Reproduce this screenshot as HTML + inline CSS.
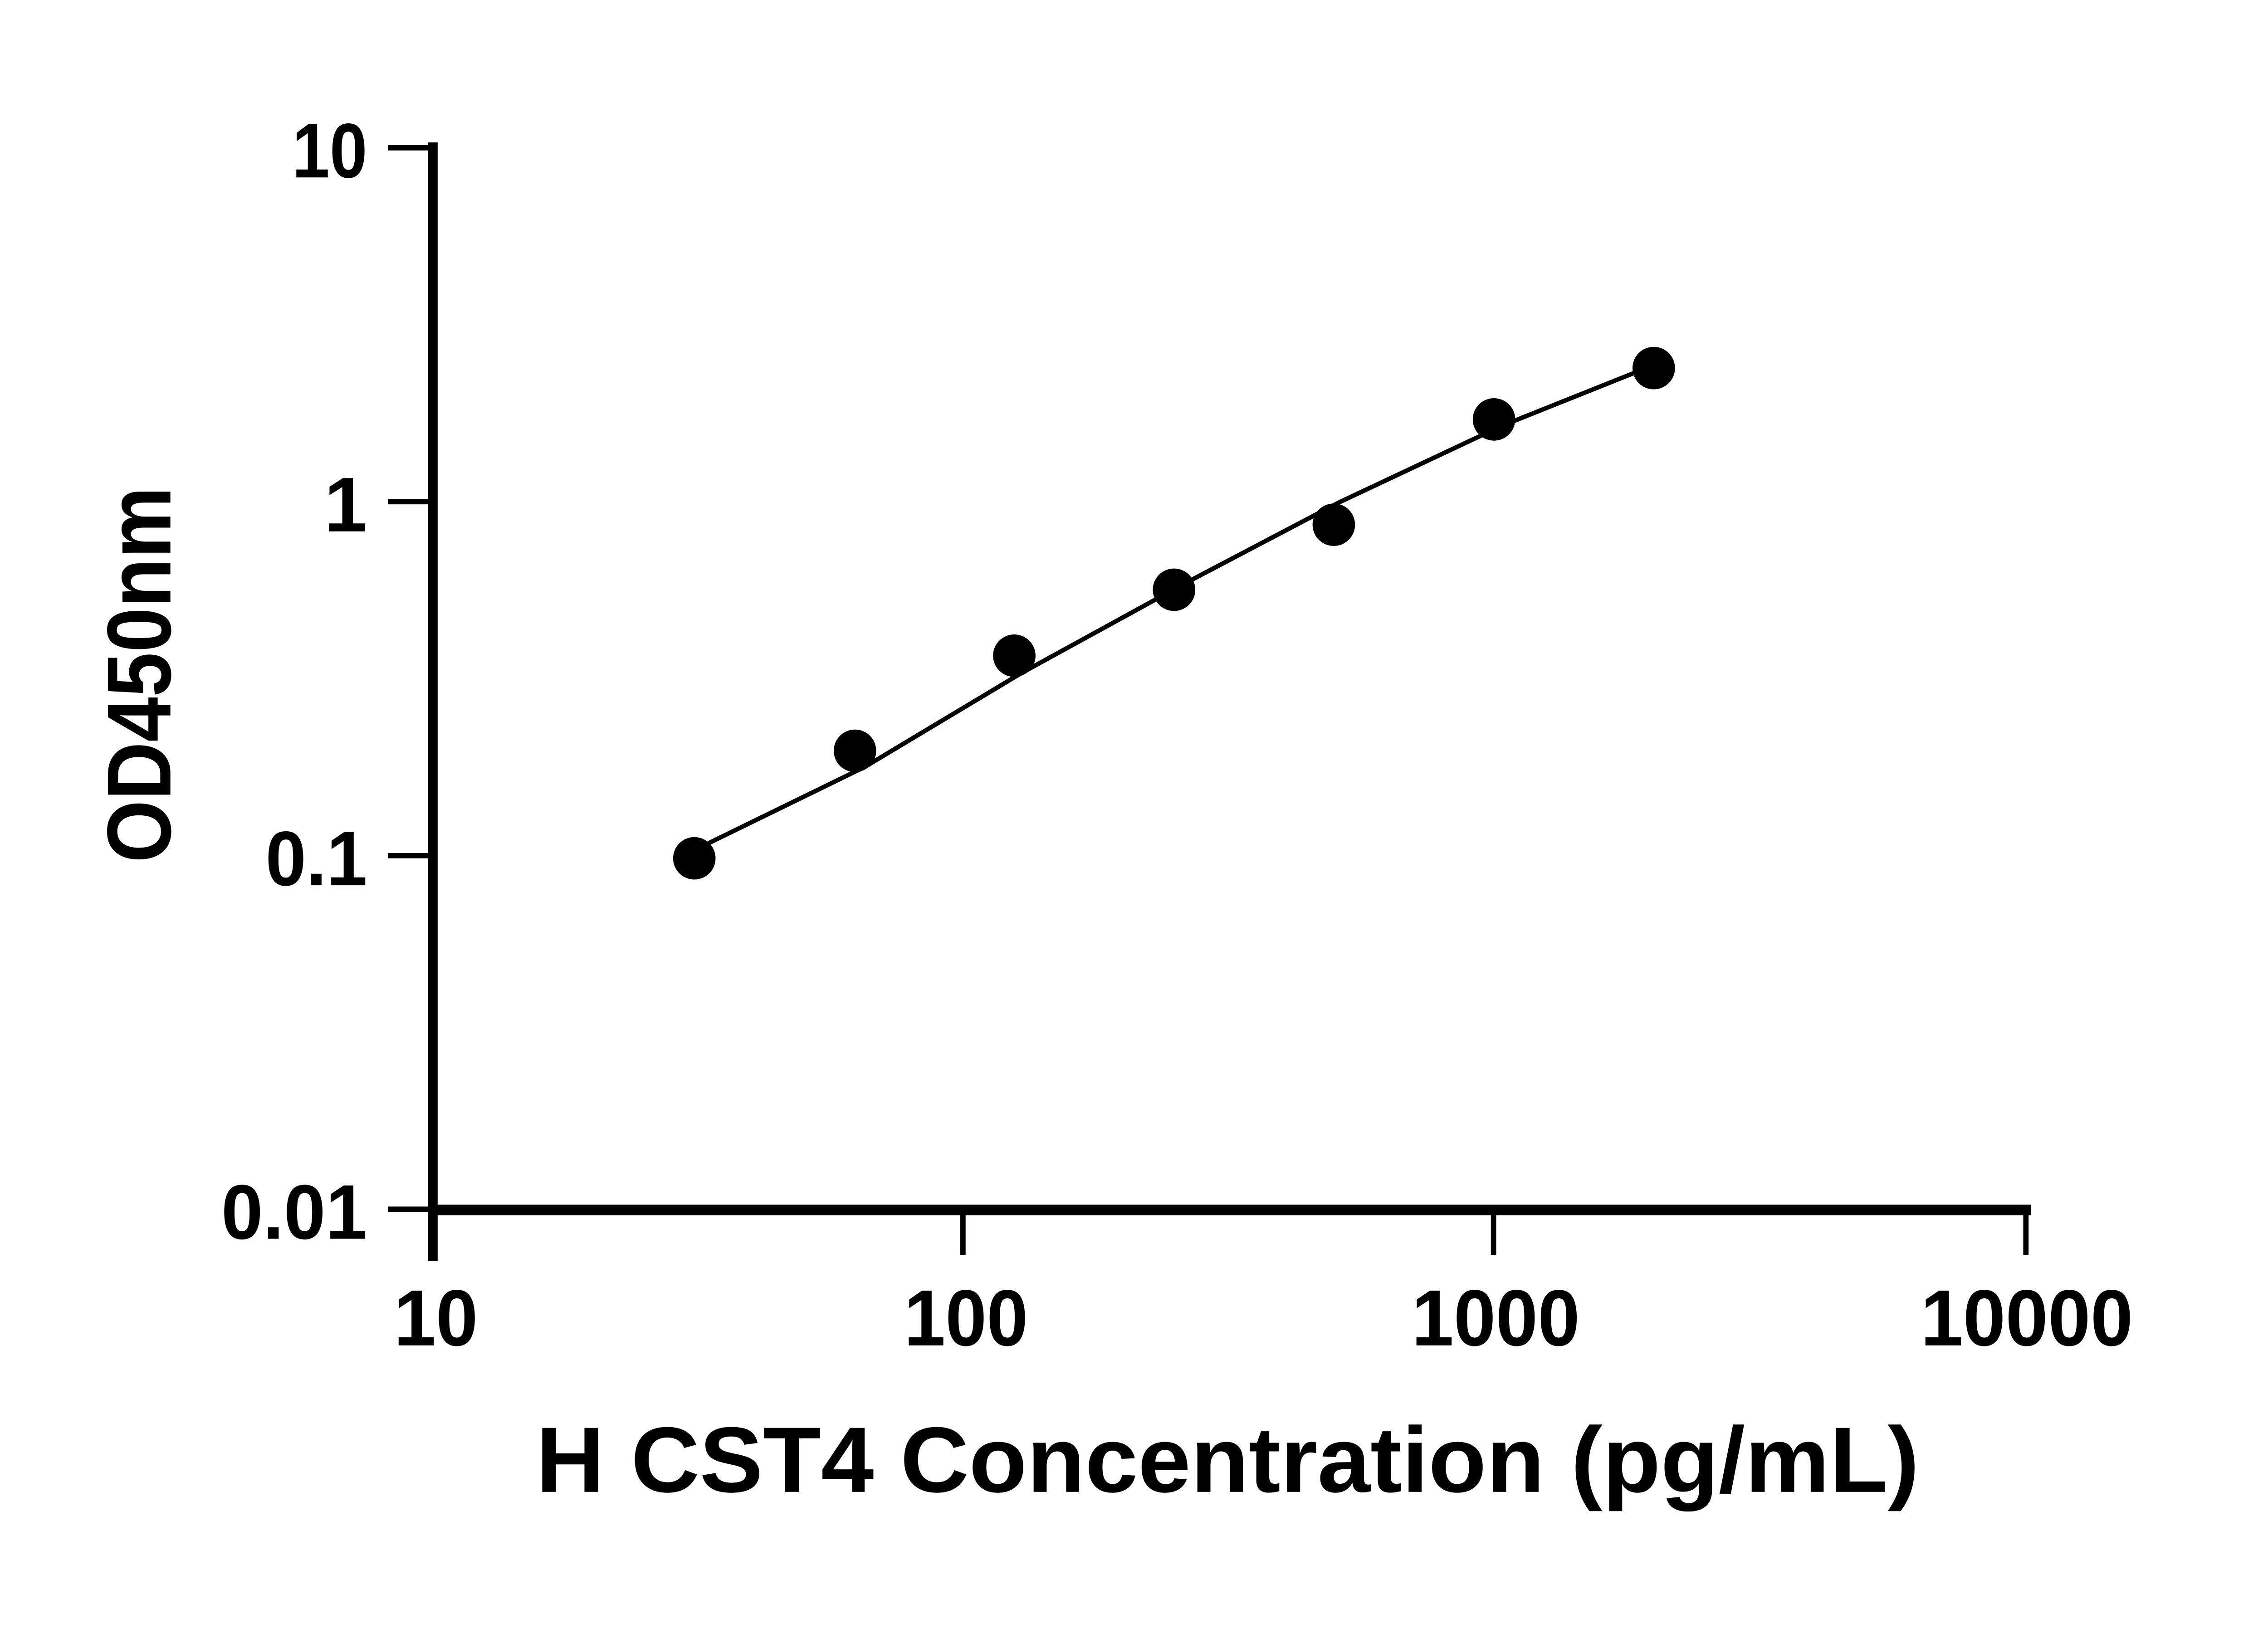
<!DOCTYPE html>
<html><head><style>html,body{margin:0;padding:0;background:#fff;}svg{display:block;}</style></head>
<body>
<svg width="5130" height="3612" viewBox="0 0 5130 3612" xmlns="http://www.w3.org/2000/svg">
<rect width="5130" height="3612" fill="#fff"/>
<g transform="scale(0.9756)">
<g stroke="#000" fill="none" stroke-linecap="butt">
<line x1="978" y1="322" x2="978" y2="2850" stroke-width="22"/>
<line x1="967" y1="2735" x2="4590" y2="2735" stroke-width="24"/>
<line x1="877" y1="334" x2="978" y2="334" stroke-width="12"/>
<line x1="877" y1="1134" x2="978" y2="1134" stroke-width="12"/>
<line x1="877" y1="1934" x2="978" y2="1934" stroke-width="12"/>
<line x1="877" y1="2733" x2="978" y2="2733" stroke-width="12"/>
<line x1="2176" y1="2735" x2="2176" y2="2837" stroke-width="12"/>
<line x1="3375" y1="2735" x2="3375" y2="2837" stroke-width="12"/>
<line x1="4578" y1="2735" x2="4578" y2="2837" stroke-width="12"/>
<path d="M1590,1915 L1603,1905 L1955,1733 L2307,1522 L2675,1320 L3027,1135 L3348,984 L3425,950 L3685,846 L3720,832" stroke-width="10" stroke-linejoin="round"/>
</g>
<g fill="#000">
<circle cx="1569" cy="1940" r="48"/>
<circle cx="1932" cy="1697" r="48"/>
<circle cx="2292" cy="1482" r="48"/>
<circle cx="2653" cy="1333" r="48"/>
<circle cx="3014" cy="1186" r="48"/>
<circle cx="3376" cy="948" r="48"/>
<circle cx="3737" cy="832" r="48"/>
</g>
<g font-family="Liberation Sans, sans-serif" font-weight="bold" fill="#000" font-size="175" text-anchor="end">
<text x="830" y="401" textLength="170" lengthAdjust="spacingAndGlyphs">10</text>
<text x="830" y="1201">1</text>
<text x="830" y="2001" textLength="230" lengthAdjust="spacingAndGlyphs">0.1</text>
<text x="830" y="2800" textLength="330" lengthAdjust="spacingAndGlyphs">0.01</text>
</g>
<g font-family="Liberation Sans, sans-serif" font-weight="bold" fill="#000" font-size="180" text-anchor="middle">
<text x="985" y="3041" textLength="190" lengthAdjust="spacingAndGlyphs">10</text>
<text x="2183" y="3041" textLength="280" lengthAdjust="spacingAndGlyphs">100</text>
<text x="3380" y="3041" textLength="380" lengthAdjust="spacingAndGlyphs">1000</text>
<text x="4580" y="3041" textLength="480" lengthAdjust="spacingAndGlyphs">10000</text>
</g>
<text x="2774" y="3372" font-family="Liberation Sans, sans-serif" font-weight="bold" font-size="210" text-anchor="middle" textLength="3126" lengthAdjust="spacingAndGlyphs">H CST4 Concentration (pg/mL)</text>
<text transform="translate(385,1525) rotate(-90)" font-family="Liberation Sans, sans-serif" font-weight="bold" font-size="205" text-anchor="middle" textLength="850" lengthAdjust="spacingAndGlyphs">OD450nm</text>
</g>
</svg>
</body></html>
